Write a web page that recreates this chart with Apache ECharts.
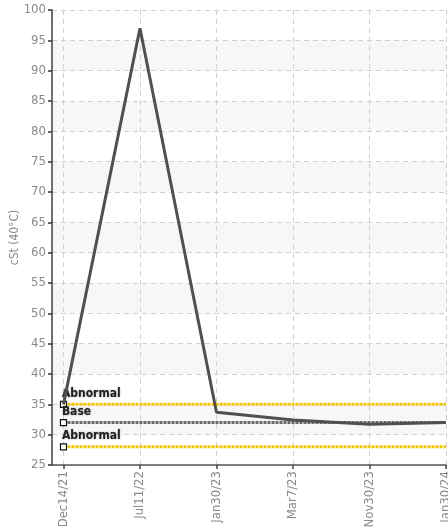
<!DOCTYPE html>
<html>
<head>
<meta charset="utf-8">
<script src="https://cdn.jsdelivr.net/npm/echarts@6/dist/echarts.min.js"></script>
<style>
html, body { margin: 0; padding: 0; background: #fff; }
#chart { width: 448px; height: 528px; }
</style>
</head>
<body>
<div id="chart"></div>
<script>
// 采样日期与粘度
const categories = ["Dec14/21", "Jul11/22", "Jan30/23", "Mar7/23", "Nov30/23", "Jan30/24"]
const viscosity = [35.0, 97.0, 33.7, 32.4, 31.7, 32.0]

// 参考线
const abnormalHigh = 35
const baseValue = 32
const abnormalLow = 28

const FONT = "'DejaVu Sans Condensed', 'Liberation Sans Narrow', sans-serif"

function refLine(name, value, color) {
	const last = categories.length - 1
	return {
		name: name,
		type: "line",
		silent: true,
		z: 3,
		showSymbol: true,
		symbol: "none",
		lineStyle: { color: color, width: 3, type: [3, 1] },
		data: [
			{
				value: [0, value],
				symbol: "rect",
				symbolSize: 6,
				itemStyle: { color: "#fff", borderColor: "#111", borderWidth: 1.2 },
				label: {
					show: true,
					formatter: name,
					position: [2, -13],
					fontFamily: FONT,
					fontSize: 12,
					fontWeight: "bold",
					color: "#222",
					textShadowColor: "rgba(0,0,0,0.35)",
					textShadowBlur: 2
				}
			},
			[last, value]
		]
	}
}

const chart = echarts.init(document.getElementById("chart"))
chart.setOption({
	animation: false,
	grid: { left: 52, right: 2, top: 10, bottom: 63, containLabel: false, outerBoundsMode: "none" },
	xAxis: {
		type: "value",
		min: -0.15,
		max: categories.length - 1,
		axisLine: { show: true, onZero: false, lineStyle: { color: "#555", width: 1.5 } },
		axisTick: { show: true, length: 4, lineStyle: { color: "#444", width: 1.5 } },
		axisLabel: {
			rotate: 90,
			margin: 6,
			color: "#8a8a8a",
			fontFamily: FONT,
			fontSize: 13,
			showMinLabel: false,
			formatter: function (v) {
				return Number.isInteger(v) ? categories[v] : ""
			}
		},
		splitLine: { show: true, lineStyle: { color: "#d0d0d0", type: [5, 4] } }
	},
	yAxis: {
		type: "value",
		min: 25,
		max: 100,
		interval: 5,
		name: "cSt (40°C)",
		nameLocation: "middle",
		nameGap: 31,
		nameMoveOverlap: false,
		nameTextStyle: { color: "#8a8a8a", fontFamily: FONT, fontSize: 12 },
		axisLine: { show: true, onZero: false, lineStyle: { color: "#444", width: 1.5 } },
		axisTick: { show: true, length: 4, lineStyle: { color: "#333", width: 1.5 } },
		axisLabel: { color: "#8a8a8a", fontFamily: FONT, fontSize: 13, margin: 6 },
		splitLine: { show: true, lineStyle: { color: "#d0d0d0", type: [5, 4] } },
		splitArea: { show: true, areaStyle: { color: ["#ffffff", "#f7f7f7"] } }
	},
	series: [
		refLine("Abnormal", abnormalHigh, "#f5c500"),
		refLine("Base", baseValue, "#6a6a6a"),
		refLine("Abnormal", abnormalLow, "#f5c500"),
		{
			name: "cSt",
			type: "line",
			z: 4,
			showSymbol: false,
			lineStyle: { color: "#505050", width: 3 },
			data: viscosity.map((v, i) => [i, v])
		}
	]
})
</script>
</body>
</html>
